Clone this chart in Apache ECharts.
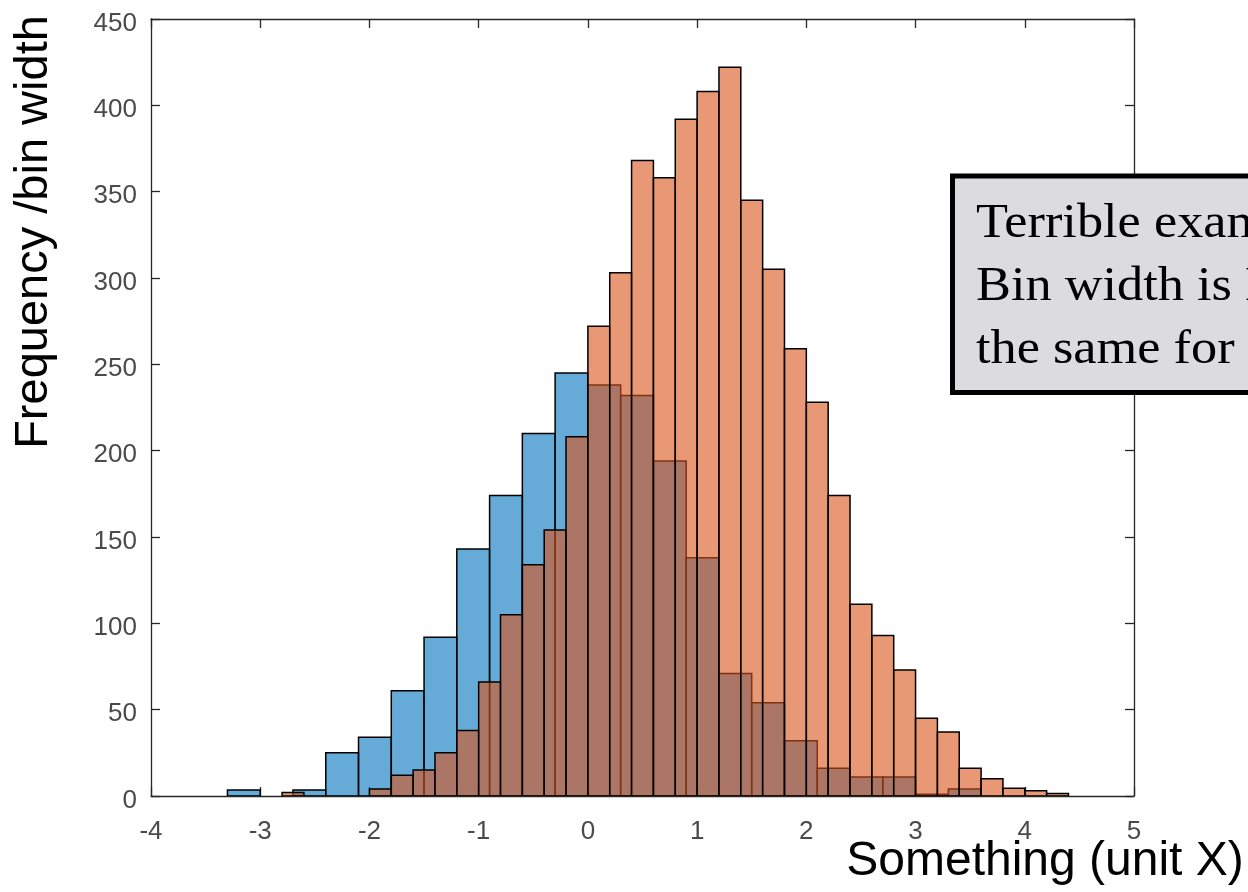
<!DOCTYPE html>
<html>
<head>
<meta charset="utf-8">
<script src="https://cdn.jsdelivr.net/npm/echarts@6/dist/echarts.min.js"></script>
<style>
html,body{margin:0;padding:0;background:#ffffff;}
#chart{width:1248px;height:892px;}
</style>
</head>
<body>
<div id="chart"></div>
<script>
// ---- data ----
const blueEdges = [-3.3, -3.0, -2.7, -2.4, -2.1, -1.8, -1.5, -1.2, -0.9, -0.6, -0.3, 0.0,
                   0.3, 0.6, 0.9, 1.2, 1.5, 1.8, 2.1, 2.4, 2.7, 3.0, 3.3, 3.6];
const blueValues = [3.5, 0, 3.5, 25, 34, 61, 92, 143, 174, 210, 245, 238,
                    232, 194, 138, 71, 54, 32, 16, 11, 11, 1, 4];

const orangeEdges = [-2.8, -2.6, -2.4, -2.2, -2.0, -1.8, -1.6, -1.4, -1.2, -1.0, -0.8, -0.6,
                     -0.4, -0.2, 0.0, 0.2, 0.4, 0.6, 0.8, 1.0, 1.2, 1.4, 1.6, 1.8,
                     2.0, 2.2, 2.4, 2.6, 2.8, 3.0, 3.2, 3.4, 3.6, 3.8, 4.0, 4.2, 4.4];
const orangeValues = [2, 0, 0, 0, 4, 12, 15, 25, 38, 66, 105, 134,
                      154, 208, 272, 303, 368, 358, 392, 408, 422, 345, 305, 259,
                      228, 174, 111, 93, 73, 45, 37, 16, 10, 4.5, 3, 1.5];

const xMin = -4, xMax = 5, xStep = 1;
const yMin = 0, yMax = 450, yStep = 50;

const xTitle = 'Something (unit X)';
const yTitle = 'Frequency /bin width';
const noteLines = ['Terrible example!', 'Bin width is NOT', 'the same for'];

// ---- build library data ----
function toBins(edges, values) {
  const out = [];
  for (let i = 0; i < values.length; i++) out.push([edges[i], edges[i + 1], values[i]]);
  return out;
}

const AXIS_COLOR = '#262626';
const LABEL_COLOR = '#4a4a4a';
const SANS = 'Liberation Sans, Arial, Helvetica, sans-serif';
const SERIF = 'Liberation Serif, Times New Roman, serif';

function histRender(fill) {
  return function (params, api) {
    const v = api.value(2);
    if (!v) return null;
    const p0 = api.coord([api.value(0), 0]);
    const p1 = api.coord([api.value(1), v]);
    return {
      type: 'rect',
      shape: { x: p0[0], y: p1[1], width: p1[0] - p0[0], height: p0[1] - p1[1] },
      style: { fill: fill, stroke: '#000000', lineWidth: 1.5 }
    };
  };
}

const axisLine = { show: true, onZero: false, lineStyle: { color: AXIS_COLOR, width: 1.3 } };
const axisTick = { show: true, inside: true, length: 9, lineStyle: { color: AXIS_COLOR, width: 1.3 } };

const chart = echarts.init(document.getElementById('chart'), null, { renderer: 'canvas' });

function noteText(i, y) {
  return {
    type: 'text', x: 976, y: y, scaleX: 1.09, scaleY: 1, z: 101,
    style: { text: noteLines[i], fontFamily: SERIF, fontSize: 48, fill: '#000000', align: 'left', verticalAlign: 'middle' }
  };
}

chart.setOption({
  animation: false,
  backgroundColor: '#ffffff',
  grid: { left: 151, top: 19, right: 114, bottom: 96, containLabel: false },
  xAxis: [
    {
      type: 'value', position: 'bottom', min: xMin, max: xMax, interval: xStep,
      axisLine: axisLine, axisTick: axisTick,
      axisLabel: { fontFamily: SANS, fontSize: 26, color: LABEL_COLOR, margin: 23 },
      splitLine: { show: false }
    },
    {
      type: 'value', position: 'top', min: xMin, max: xMax, interval: xStep,
      axisLine: axisLine, axisTick: axisTick,
      axisLabel: { show: false }, splitLine: { show: false }
    }
  ],
  yAxis: [
    {
      type: 'value', position: 'left', min: yMin, max: yMax, interval: yStep,
      axisLine: axisLine, axisTick: axisTick,
      axisLabel: { fontFamily: SANS, fontSize: 26, color: LABEL_COLOR, margin: 14, verticalAlign: 'top', lineHeight: 9 },
      splitLine: { show: false }
    },
    {
      type: 'value', position: 'right', min: yMin, max: yMax, interval: yStep,
      axisLine: axisLine, axisTick: axisTick,
      axisLabel: { show: false }, splitLine: { show: false }
    }
  ],
  series: [
    {
      type: 'custom', name: 'A', xAxisIndex: 0, yAxisIndex: 0,
      renderItem: histRender('rgba(0,114,189,0.6)'),
      encode: { x: [0, 1], y: 2 },
      data: toBins(blueEdges, blueValues),
      clip: true, z: 2
    },
    {
      type: 'custom', name: 'B', xAxisIndex: 0, yAxisIndex: 0,
      renderItem: histRender('rgba(217,83,25,0.6)'),
      encode: { x: [0, 1], y: 2 },
      data: toBins(orangeEdges, orangeValues),
      clip: true, z: 3
    }
  ],
  graphic: [
    {
      type: 'text', x: 1045, y: 862, z: 50,
      style: { text: xTitle, fontFamily: SANS, fontSize: 48, fill: '#000000', align: 'center', verticalAlign: 'middle' }
    },
    {
      type: 'text', x: 34, y: 232, rotation: Math.PI / 2, z: 50,
      style: { text: yTitle, fontFamily: SANS, fontSize: 47, fill: '#000000', align: 'center', verticalAlign: 'middle' }
    },
    {
      type: 'rect', x: 0, y: 0, z: 100,
      shape: { x: 952.5, y: 176, width: 420, height: 216.5 },
      style: { fill: '#dcdcde', stroke: '#000000', lineWidth: 5 }
    },
    noteText(0, 224),
    noteText(1, 287),
    noteText(2, 350)
  ]
});
</script>
</body>
</html>
